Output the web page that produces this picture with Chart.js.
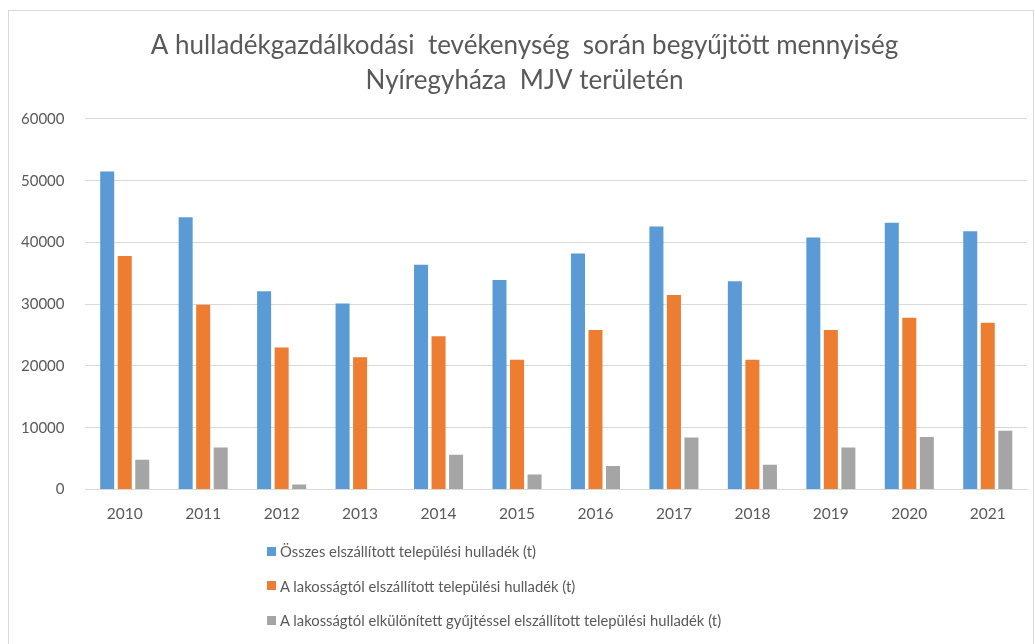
<!DOCTYPE html>
<html>
<head>
<meta charset="utf-8">
<script src="https://cdn.jsdelivr.net/npm/chart.js@4"></script>
<style>
  body { margin: 0; background: #fff; }
  #wrap { position: relative; width: 1035px; height: 644px; overflow: hidden; }
  #frame { position: absolute; left: 8px; top: 10px; width: 1024px; height: 700px; border: 1px solid #d9d9d9; }
  canvas { position: absolute; left: 0; top: 0; }
  #legend { position: absolute; left: 267px; top: 534px; font-family: Lato, sans-serif; font-size: 14.8px; color: #595959; }
  #legend div { height: 34.5px; display: flex; align-items: center; }
  #legend span.box { display: inline-block; width: 9px; height: 9px; margin-right: 4px; }
</style>
</head>
<body>
<div id="wrap">
  <div id="frame"></div>
  <canvas id="chart" width="1035" height="644"></canvas>
  <div id="legend"></div>
</div>
<script>
const years = ['2010', '2011', '2012', '2013', '2014', '2015', '2016', '2017', '2018', '2019', '2020', '2021'];
const osszes = [51500, 44100, 32100, 30100, 36400, 33900, 38200, 42600, 33700, 40800, 43200, 41800];
const lakossagtol = [37800, 29900, 23000, 21400, 24800, 21000, 25800, 31500, 21000, 25800, 27800, 27000];
const elkulonitett = [4800, 6800, 800, 0, 5600, 2400, 3800, 8400, 4000, 6800, 8500, 9500];
const seriesNames = [
  'Összes elszállított települési hulladék (t)',
  'A lakosságtól elszállított települési hulladék (t)',
  'A lakosságtól elkülönített gyűjtéssel elszállított települési hulladék (t)'
];
const colors = ['#5B9BD5', '#ED7D31', '#A5A5A5'];

// a cím kicsit jobbra van az eredetin
const shiftTitle = {
  id: 'shiftTitle',
  afterLayout(chart) {
    const t = chart.titleBlock;
    if (t) { t.left += 11; t.right += 11; }
  }
};

const chart = new Chart(document.getElementById('chart'), {
  type: 'bar',
  data: {
    labels: years,
    datasets: [osszes, lakossagtol, elkulonitett].map((d, i) => ({
      label: seriesNames[i],
      data: d,
      backgroundColor: colors[i],
      barPercentage: 0.8,
      categoryPercentage: 0.67
    }))
  },
  options: {
    responsive: false,
    animation: false,
    layout: { padding: { top: 28, left: 0, right: 8, bottom: 114 } },
    plugins: {
      legend: { display: false },
      tooltip: { enabled: false },
      title: {
        display: true,
        text: ['A hulladékgazdálkodási  tevékenység  során begyűjtött mennyiség', 'Nyíregyháza  MJV területén'],
        color: '#595959',
        font: { family: 'Lato', size: 26, weight: 'normal', lineHeight: 1.346 },
        padding: { top: 0, bottom: 21 }
      }
    },
    scales: {
      x: {
        grid: { display: false },
        border: { color: '#d9d9d9' },
        ticks: { color: '#595959', font: { family: 'Lato', size: 15.5 }, padding: 7 }
      },
      y: {
        min: 0,
        max: 60000,
        ticks: {
          stepSize: 10000, color: '#595959', font: { family: 'Lato', size: 15 }, padding: 21,
          callback: v => String(v)
        },
        grid: { color: '#d9d9d9', drawTicks: false },
        border: { display: false }
      }
    }
  },
  plugins: [shiftTitle]
});

// jelmagyarázat egymás alatt, mint az eredetin
const legend = document.getElementById('legend');
chart.data.datasets.forEach(ds => {
  const row = document.createElement('div');
  row.innerHTML = '<span class="box" style="background:' + ds.backgroundColor + '"></span>' + ds.label;
  legend.appendChild(row);
});
</script>
</body>
</html>
